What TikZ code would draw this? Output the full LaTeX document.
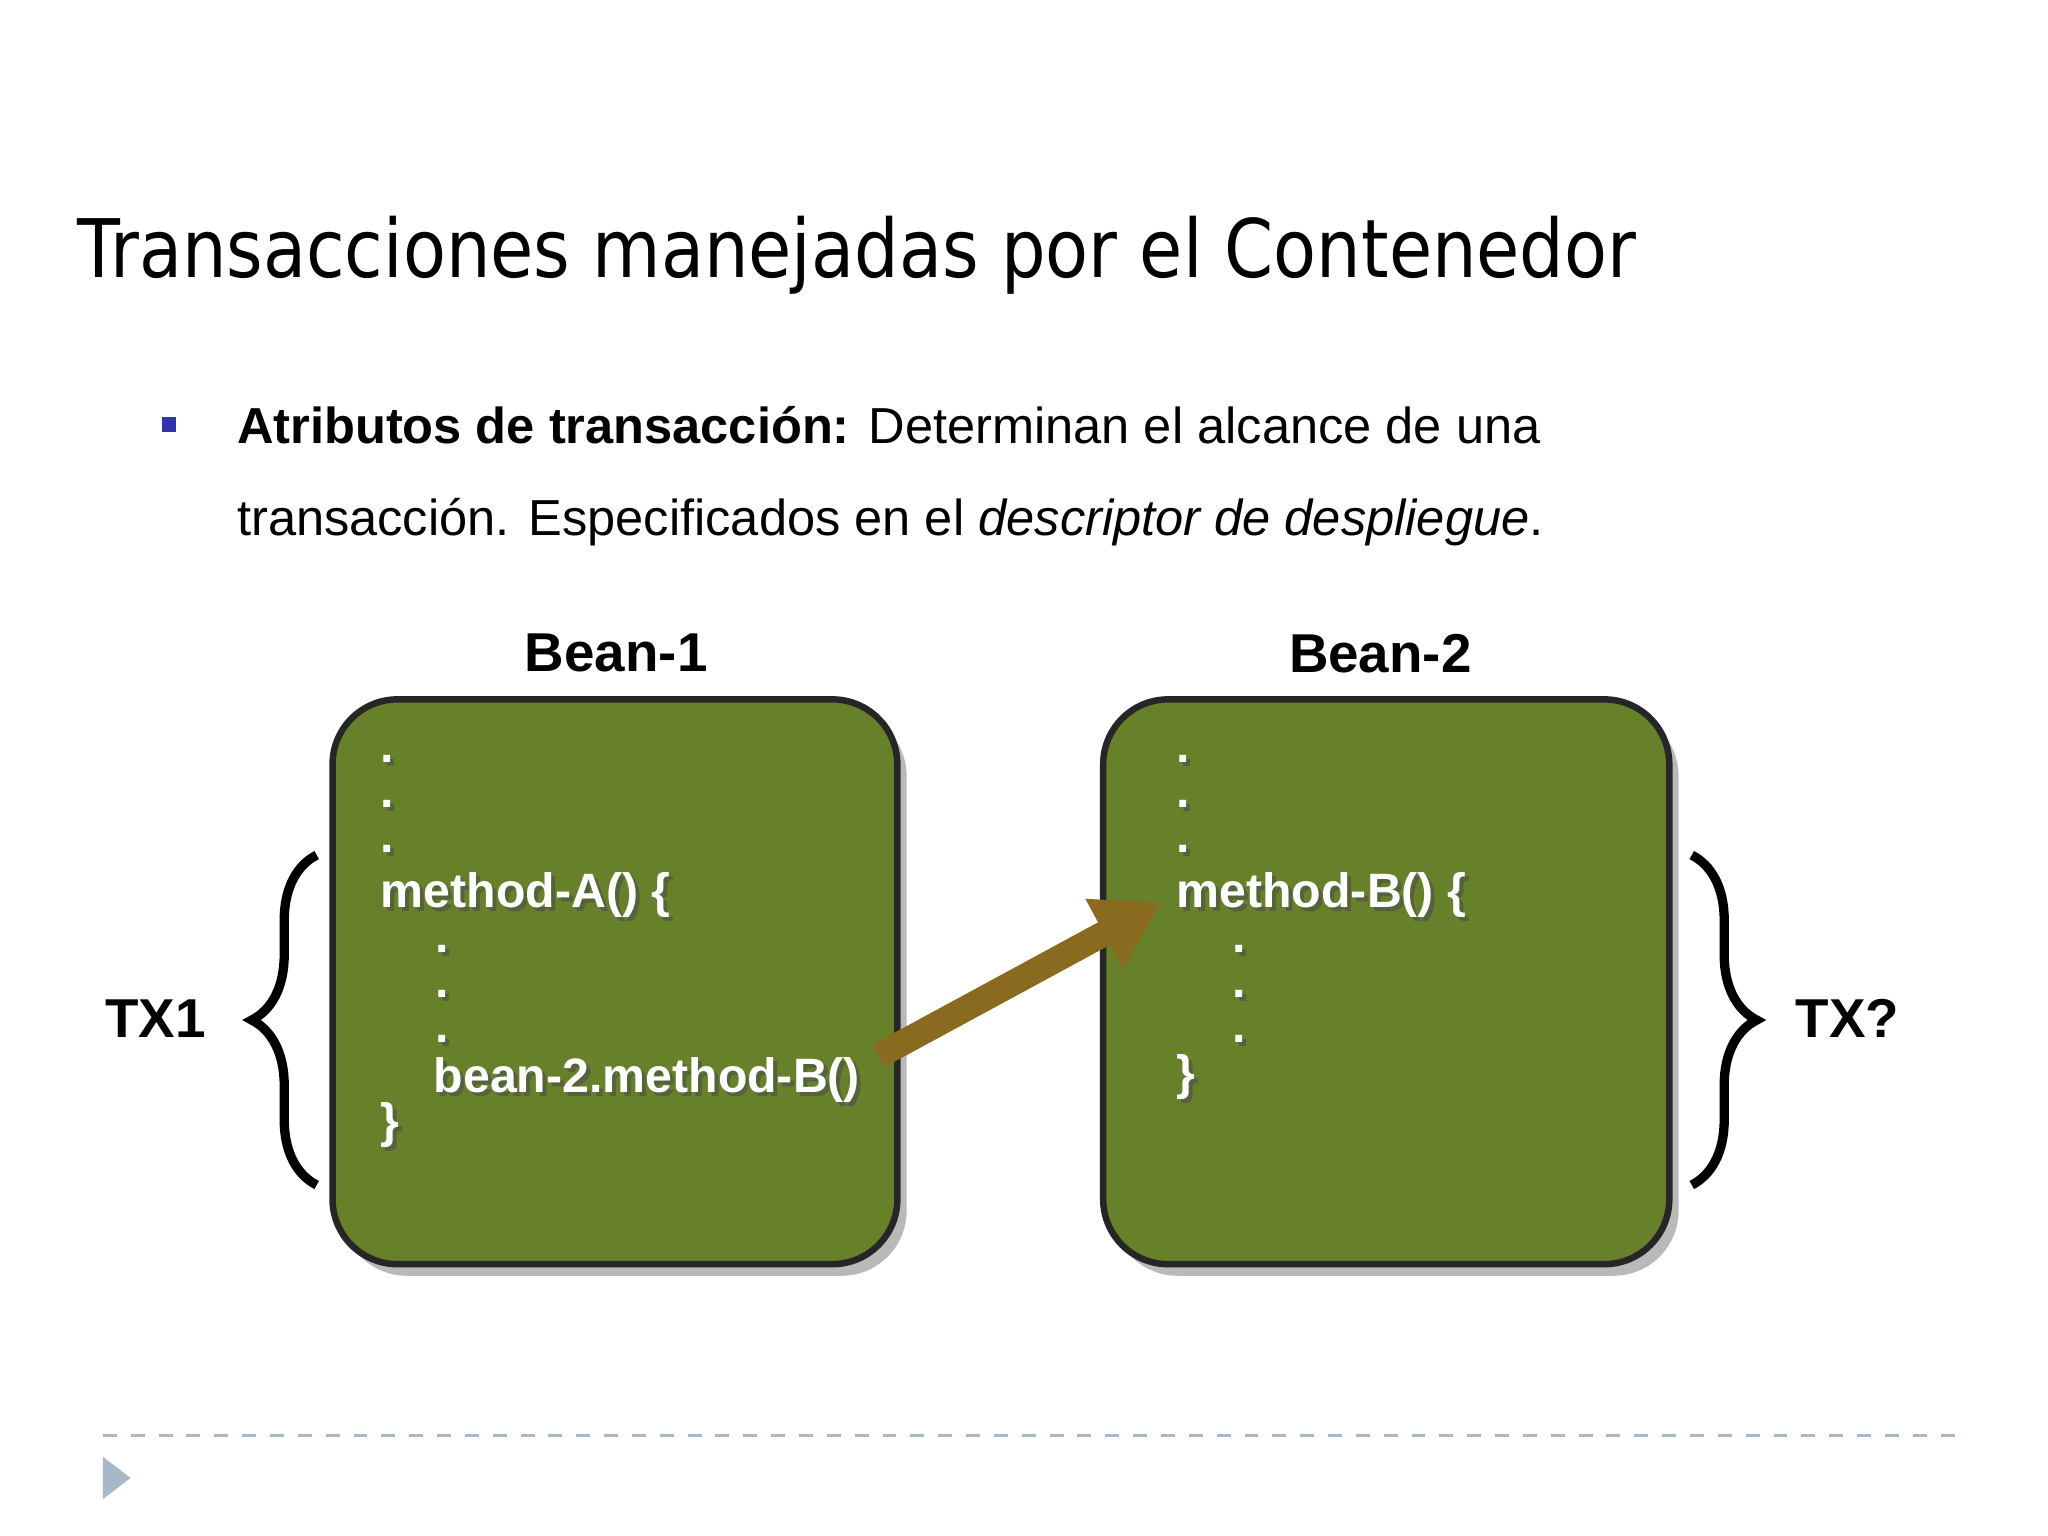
\documentclass[tikz,border=0pt]{standalone}
\usepackage{fontspec}
\setmainfont{Liberation Sans}
\newfontfamily\titlefont[FakeStretch=0.87]{DejaVu Sans}
\usetikzlibrary{decorations.pathreplacing,shadows,arrows.meta}
\definecolor{beangreen}{HTML}{66812A}
\definecolor{arrowbrown}{HTML}{8A6A1E}
\definecolor{slateblue}{HTML}{3333AA}
\definecolor{dashgray}{HTML}{A8B8C8}
\tikzset{
 bean/.style={draw=black!85,line width=1.4pt,fill=beangreen,rounded corners=14pt,
   drop shadow={shadow xshift=2pt,shadow yshift=-2.5pt,opacity=0.55}},
 code/.style={anchor=base west,text=white,font=\fontsize{10.4pt}{12pt}\selectfont\bfseries,inner sep=0pt},
 codeshadow/.style={anchor=base west,text=black!70,font=\fontsize{10.4pt}{12pt}\selectfont\bfseries,inner sep=0pt,opacity=0.6},
 lbl/.style={font=\fontsize{11.8pt}{13pt}\selectfont\bfseries,inner sep=0pt},
 brc/.style={line width=2pt,decorate,decoration={brace,amplitude=14pt}}
}
\newcommand{\codetxt}[3]{%
 \node[codeshadow] at (#1+3,#2+3) {#3};
 \node[code] at (#1,#2) {#3};}
\begin{document}
\begin{tikzpicture}[x=0.01cm,y=-0.01cm]
\useasboundingbox (0,0) rectangle (1552,1164);
\fill[white] (0,0) rectangle (1552,1164);
\node[anchor=base west,inner sep=0pt,font=\titlefont\fontsize{17.4pt}{20pt}\selectfont] (title) at (58,210) {Transacciones manejadas por el Contenedor};
\fill[slateblue] (123,316) rectangle (133,327);
\node[anchor=base west,inner sep=0pt,font=\fontsize{10.9pt}{12pt}\selectfont] (l1) at (179,336) {\textbf{Atributos de transacción:} Determinan el alcance de una};
\node[anchor=base west,inner sep=0pt,font=\fontsize{10.9pt}{12pt}\selectfont] (l2) at (179,406) {transacción. Especificados en el \textit{descriptor de despliegue}.};
\node[lbl] (b1l) at (467,495) {Bean-1};
\node[lbl] (b2l) at (1046,495) {Bean-2};
\draw[bean] (252,530) rectangle (680,958);
\draw[bean] (836,530) rectangle (1265,958);
\codetxt{288}{578}{.}
\codetxt{288}{612}{.}
\codetxt{288}{646}{.}
\codetxt{288}{688}{method-A() \{}
\codetxt{329}{722}{.}
\codetxt{329}{756}{.}
\codetxt{329}{790}{.}
\codetxt{328}{828}{bean-2.method-B()}
\codetxt{288}{862}{\}}
\codetxt{891}{578}{.}
\codetxt{891}{612}{.}
\codetxt{891}{646}{.}
\codetxt{891}{688}{method-B() \{}
\codetxt{933}{722}{.}
\codetxt{933}{756}{.}
\codetxt{933}{790}{.}
\codetxt{891}{826}{\}}
\coordinate (as) at (666,800);
\coordinate (ae) at (880,684);
\draw[arrowbrown,line width=5.5pt,-{Triangle[length=14pt,width=16pt]}] (as) -- (ae);
\coordinate (lb1) at (240,898);
\coordinate (lb2) at (240,648);
\draw[brc] (lb1) -- (lb2);
\coordinate (rb1) at (1282,648);
\coordinate (rb2) at (1282,898);
\draw[brc] (rb1) -- (rb2);
\node[lbl,anchor=center] (tx1) at (118,772) {TX1};
\node[lbl,anchor=center] (tx2) at (1400,772) {TX?};
\draw[dashgray,dashed,line width=0.6pt] (78,1088) -- (1490,1088);
\fill[dashgray] (78,1104) -- (99,1120) -- (78,1136) -- cycle;
\end{tikzpicture}
\end{document}
